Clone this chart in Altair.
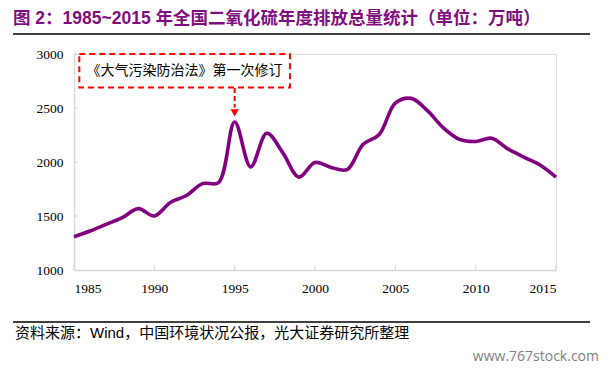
import altair as alt
import pandas as pd

years = list(range(1985, 2016))
values = [1308, 1361, 1423, 1484, 1568, 1500, 1625, 1690, 1800, 1810,
          2370, 1955, 2266, 2085, 1860, 1995, 1950, 1930, 2165, 2255,
          2545, 2589, 2475, 2315, 2210, 2190, 2220, 2122, 2045, 1972, 1860]
x_ticks = [1985, 1990, 1995, 2000, 2005, 2010, 2015]
y_ticks = [1000, 1500, 2000, 2500, 3000]

title_text = "图 2：1985~2015 年全国二氧化硫年度排放总量统计（单位：万吨）"
source_text = "资料来源：Wind，中国环境状况公报，光大证券研究所整理"
watermark_text = "www.767stock.com"
note_text = "《大气污染防治法》第一次修订"

# annotation anchor (data space)
note_year = 1995
box_x = [1985.33]
box_x2 = [1998.44]
box_y = [2690]
box_y2 = [3000]
arrow_from = [2685]
arrow_to = [2505]
arrow_head = [2455]

df = pd.DataFrame({"year": years, "value": values})

W, H = 482, 216
xs = alt.Scale(domain=[1985, 2015], nice=False)
ys = alt.Scale(domain=[1000, 3000], nice=False)

xaxis = alt.Axis(values=x_ticks, format="d", title=None, grid=False, ticks=False,
                 domainColor="#d9d9d9", domainWidth=1.5, labelFont="Liberation Serif",
                 labelFontSize=13.5, labelColor="#000000", labelPadding=11)
yaxis = alt.Axis(values=y_ticks, format="d", title=None, grid=False, ticks=False,
                 domainColor="#d9d9d9", domainWidth=1.5, labelFont="Liberation Serif",
                 labelFontSize=13.5, labelColor="#000000", labelPadding=11)

line = alt.Chart(df).mark_line(interpolate="catmull-rom", color="#800080",
                               strokeWidth=3.6).encode(
    x=alt.X("year:Q", scale=xs, axis=xaxis),
    y=alt.Y("value:Q", scale=ys, axis=yaxis),
)

xt = pd.DataFrame({"year": x_ticks, "y0": [1000] * len(x_ticks), "y1": [1046] * len(x_ticks)})
xtick_layer = alt.Chart(xt).mark_rule(color="#d9d9d9", strokeWidth=1.2).encode(
    x=alt.X("year:Q", scale=xs, axis=xaxis), y=alt.Y("y0:Q", scale=ys, axis=yaxis), y2="y1:Q")

yt = pd.DataFrame({"v": y_ticks[1:], "x0": [1985] * 4, "x1": [1985.25] * 4})
ytick_layer = alt.Chart(yt).mark_rule(color="#d9d9d9", strokeWidth=1.2).encode(
    y=alt.Y("v:Q", scale=ys, axis=yaxis), x=alt.X("x0:Q", scale=xs, axis=xaxis), x2="x1:Q")

box_df = pd.DataFrame({"x": box_x, "x2": box_x2, "y": box_y, "y2": box_y2,
                       "tx": [(box_x[0] + box_x2[0]) / 2], "ty": [(box_y[0] + box_y2[0]) / 2],
                       "t": [note_text]})
box = alt.Chart(box_df).mark_rect(fill=None, fillOpacity=0, stroke="#ff0000", strokeWidth=2,
                                  strokeDash=[6, 4]).encode(
    x=alt.X("x:Q", scale=xs, axis=xaxis), x2="x2:Q", y=alt.Y("y:Q", scale=ys, axis=yaxis), y2="y2:Q")
note = alt.Chart(box_df).mark_text(font="Noto Sans CJK SC", fontSize=14, color="#000000",
                                   align="center", baseline="middle").encode(
    x=alt.X("tx:Q", scale=xs, axis=xaxis), y=alt.Y("ty:Q", scale=ys, axis=yaxis), text="t:N")

arrow_df = pd.DataFrame({"x": [note_year], "y": arrow_from, "y2": arrow_to, "h": arrow_head})
arrow = alt.Chart(arrow_df).mark_rule(color="#ff0000", strokeWidth=2, strokeDash=[5, 3]).encode(
    x=alt.X("x:Q", scale=xs, axis=xaxis), y=alt.Y("y:Q", scale=ys, axis=yaxis), y2="y2:Q")
head = alt.Chart(arrow_df).mark_point(shape="triangle-down", filled=True, color="#ff0000",
                                      size=70, opacity=1).encode(
    x=alt.X("x:Q", scale=xs, axis=xaxis), y=alt.Y("h:Q", scale=ys, axis=yaxis))

one = pd.DataFrame({"a": [0]})
title = alt.Chart(one).mark_text(text=title_text, font="Liberation Sans, Noto Sans CJK SC",
                                 fontSize=17.5, fontWeight="bold", color="#7f0f7f",
                                 align="left", baseline="middle").encode(
    x=alt.value(-61), y=alt.value(-35))
title_line = alt.Chart(one).mark_rule(color="#000000", strokeWidth=1.5).encode(
    x=alt.value(-61), x2=alt.value(516), y=alt.value(-20))
foot_line = alt.Chart(one).mark_rule(color="#000000", strokeWidth=1.5).encode(
    x=alt.value(-61), x2=alt.value(516), y=alt.value(268))
source = alt.Chart(one).mark_text(text=source_text, font="Liberation Sans, Noto Sans CJK SC",
                                  fontSize=15, color="#000000",
                                  align="left", baseline="middle").encode(
    x=alt.value(-59), y=alt.value(279))
watermark = alt.Chart(one).mark_text(text=watermark_text, font="Open Sans",
                                     fontSize=14, color="#808080",
                                     align="right", baseline="bottom").encode(
    x=alt.value(525), y=alt.value(310))

chart = alt.layer(line, xtick_layer, ytick_layer, box, note, arrow, head,
                  title, title_line, foot_line, source, watermark).properties(
    width=W, height=H,
    autosize=alt.AutoSizeParams(type="none"),
    padding={"left": 66, "top": 46, "right": 46, "bottom": 94},
).configure_view(stroke=None).configure(background="#ffffff")

chart.save("out.html", embed_options={"renderer": "svg", "actions": False})
